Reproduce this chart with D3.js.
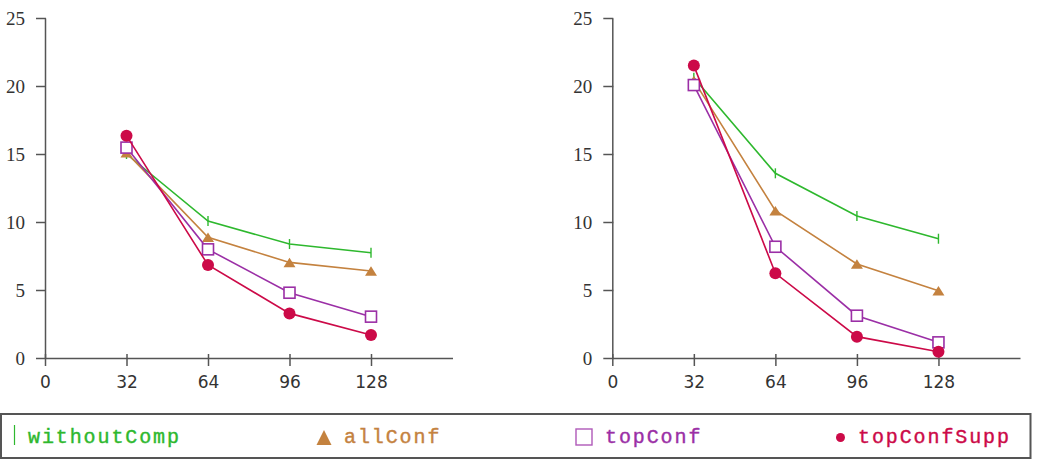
<!DOCTYPE html>
<html>
<head>
<meta charset="utf-8">
<script src="https://cdn.jsdelivr.net/npm/d3@7"></script>
<style>
  body { margin: 0; background: #fff; }
  svg { display: block; }
</style>
</head>
<body>
<div id="chart"></div>
<script>
// x positions shared by both panels
const xValues = [32, 64, 96, 128];
const xTicks = [0, 32, 64, 96, 128];
const yTicks = [0, 5, 10, 15, 20, 25];

const seriesNames = ["withoutComp", "allConf", "topConf", "topConfSupp"];

// left panel values
const leftWithoutComp = [15.0, 10.07, 8.38, 7.74];
const leftAllConf = [15.1, 8.87, 7.03, 6.4];
const leftTopConf = [15.47, 7.99, 4.8, 3.04];
const leftTopConfSupp = [16.35, 6.84, 3.28, 1.69];

// right panel values
const rightWithoutComp = [20.6, 13.58, 10.44, 8.77];
const rightAllConf = [20.4, 10.83, 6.91, 4.95];
const rightTopConf = [20.07, 8.18, 3.11, 1.15];
const rightTopConfSupp = [21.5, 6.23, 1.57, 0.46];

const width = 1038, height = 462;

const styles = {
    withoutComp: {color: "#2eb82e", marker: "tick"},
    allConf: {color: "#c4823f", marker: "triangle"},
    topConf: {color: "#9b2fa6", marker: "square"},
    topConfSupp: {color: "#cc0a48", marker: "circle"}
};

const svg = d3.select("#chart")
    .append("svg")
    .attr("width", width)
    .attr("height", height);

const y = d3.scaleLinear().domain([0, 25]).range([358, 18]);

const panels = [
    {x0: 45, x1: 452.5, data: [leftWithoutComp, leftAllConf, leftTopConf, leftTopConfSupp]},
    {x0: 612.3, x1: 1020, data: [rightWithoutComp, rightAllConf, rightTopConf, rightTopConfSupp]}
];

function drawMarker(g, type, color, cx, cy) {
    if (type === "tick") {
        g.append("line")
            .attr("x1", cx).attr("x2", cx)
            .attr("y1", cy - 5).attr("y2", cy + 5)
            .attr("stroke", color).attr("stroke-width", 1.4);
    } else if (type === "triangle") {
        const w = 6, h = 9.5;
        g.append("path")
            .attr("d", `M${cx - w},${cy + h / 2}L${cx + w},${cy + h / 2}L${cx},${cy - h / 2}Z`)
            .attr("fill", color);
    } else if (type === "square") {
        const a = 5.5;
        g.append("rect")
            .attr("x", cx - a).attr("y", cy - a)
            .attr("width", 2 * a).attr("height", 2 * a)
            .attr("fill", "#fff")
            .attr("stroke", color).attr("stroke-width", 1.6);
    } else {
        g.append("circle")
            .attr("cx", cx).attr("cy", cy).attr("r", 6)
            .attr("fill", color);
    }
}

panels.forEach(p => {
    const x = d3.scaleLinear().domain([0, 160]).range([p.x0, p.x1]);
    const g = svg.append("g");

    // y axis
    const yAxis = g.append("g")
        .attr("transform", `translate(${p.x0},0)`)
        .call(d3.axisLeft(y).tickValues(yTicks).tickSize(9).tickSizeOuter(0).tickPadding(11));
    yAxis.select(".domain").attr("stroke", "#555").attr("stroke-width", 1.5);
    yAxis.selectAll(".tick line").attr("stroke", "#555").attr("stroke-width", 1.5).attr("x1", 1);
    yAxis.selectAll(".tick text")
        .attr("font-family", "Liberation Serif")
        .attr("font-size", 19)
        .attr("fill", "#333")
        .attr("dy", "0.33em");

    // x axis
    const xAxis = g.append("g")
        .attr("transform", `translate(0,${y(0)})`)
        .call(d3.axisBottom(x).tickValues(xTicks).tickSize(8).tickSizeOuter(0).tickPadding(10));
    xAxis.select(".domain").attr("stroke", "#555").attr("stroke-width", 1.5);
    xAxis.selectAll(".tick line").attr("stroke", "#555").attr("stroke-width", 1.5).attr("y1", -4);
    xAxis.selectAll(".tick text")
        .attr("font-family", "DejaVu Sans")
        .attr("font-size", 17)
        .attr("fill", "#333")
        .attr("dy", "0.71em");

    const line = d3.line()
        .x((d, i) => x(xValues[i]))
        .y(d => y(d));

    seriesNames.forEach((name, si) => {
        const st = styles[name];
        const vals = p.data[si];
        g.append("path")
            .datum(vals)
            .attr("d", line)
            .attr("fill", "none")
            .attr("stroke", st.color)
            .attr("stroke-width", 1.6);
        vals.forEach((v, i) => drawMarker(g, st.marker, st.color, x(xValues[i]), y(v)));
    });
});

// legend
const legend = svg.append("g");
legend.append("rect")
    .attr("x", 1).attr("y", 414)
    .attr("width", 1029.5).attr("height", 44)
    .attr("fill", "#fff")
    .attr("stroke", "#555").attr("stroke-width", 2);

const legendMarkerX = [14.5, 324, 584, 840.5];
const legendTextX = [28, 344, 605, 858];

seriesNames.forEach((name, i) => {
    const st = styles[name];
    if (st.marker === "tick") {
        legend.append("line")
            .attr("x1", legendMarkerX[i]).attr("x2", legendMarkerX[i])
            .attr("y1", 425).attr("y2", 445)
            .attr("stroke", st.color).attr("stroke-width", 1.2);
    } else if (st.marker === "triangle") {
        const cx = legendMarkerX[i], cy = 437.5;
        legend.append("path")
            .attr("d", `M${cx - 7.5},${cy + 7.5}L${cx + 7.5},${cy + 7.5}L${cx},${cy - 7.5}Z`)
            .attr("fill", st.color);
    } else if (st.marker === "square") {
        legend.append("rect")
            .attr("x", legendMarkerX[i] - 8).attr("y", 429)
            .attr("width", 16).attr("height", 16)
            .attr("fill", "#fff")
            .attr("stroke", st.color).attr("stroke-width", 1.4)
            .attr("stroke-opacity", 0.8);
    } else {
        legend.append("circle")
            .attr("cx", legendMarkerX[i]).attr("cy", 437.5).attr("r", 4.5)
            .attr("fill", st.color);
    }
    legend.append("text")
        .attr("x", legendTextX[i]).attr("y", 443)
        .attr("font-family", "Liberation Mono")
        .attr("font-size", 20)
        .attr("letter-spacing", 1.9)
        .attr("fill", st.color)
        .attr("stroke", st.color)
        .attr("stroke-width", 0.4)
        .text(name);
});
</script>
</body>
</html>
